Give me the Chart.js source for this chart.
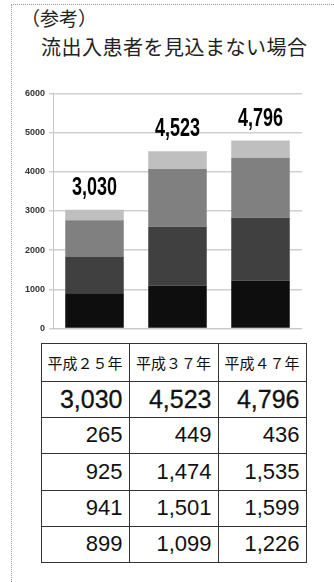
<!DOCTYPE html>
<html lang="ja">
<head>
<meta charset="utf-8">
<script src="https://cdn.jsdelivr.net/npm/chart.js@4"></script>
<style>
  body { margin: 0; width: 334px; height: 582px; background: #fff; position: relative; overflow: hidden; }
  .frameTop { position: absolute; left: 11px; top: 4px; width: 323px; border-top: 1px dotted #999; }
  .frameLeft { position: absolute; left: 11px; top: 4px; height: 578px; border-left: 1px dotted #999; }
  .t1 { position: absolute; left: 21px; top: 8px; font: 19px "Noto Sans CJK JP", sans-serif; color: #222; line-height: 1; }
  .t2 { position: absolute; left: 41px; top: 37px; font: 20px "Noto Sans CJK JP", sans-serif; color: #222; line-height: 1; letter-spacing: 0.5px; }
  #wrap { position: absolute; left: 20px; top: 84px; width: 282px; height: 254px; }
  #tabla { position: absolute; left: 41px; top: 343px; width: 266px; height: 220px; }
  .celda { position: absolute; box-sizing: border-box; border: 1px solid #333; margin: -0.5px 0 0 -0.5px;
           display: flex; align-items: center; justify-content: flex-end; padding-right: 6px;
           font: 22px "Liberation Sans", Arial, sans-serif; color: #111; white-space: nowrap; }
  .celda.head { font: 15px "Noto Sans CJK JP", sans-serif; justify-content: center; padding: 0; }
  .celda.tot { font-size: 25px; -webkit-text-stroke: 0.3px #111; }
</style>
</head>
<body>
<div class="frameTop"></div>
<div class="frameLeft"></div>
<div class="t1">（参考）</div>
<div class="t2">流出入患者を見込まない場合</div>
<div id="wrap"><canvas id="grafica"></canvas></div>
<div id="tabla"></div>
<script>
const anios = ["平成２５年", "平成３７年", "平成４７年"];
const totales = [3030, 4523, 4796];
// de abajo hacia arriba en la barra
const serieA = [899, 1099, 1226];
const serieB = [941, 1501, 1599];
const serieC = [925, 1474, 1535];
const serieD = [265, 449, 436];
const ticksY = [0, 1000, 2000, 3000, 4000, 5000, 6000];

const colores = ["#0e0e0e", "#404040", "#808080", "#bfbfbf"];
const series = [serieA, serieB, serieC, serieD];

const fmt = (v) => v.toLocaleString("en-US");

// tabla debajo del grafico (bordes de columnas y filas en px)
const colX = [0, 88, 177, 265];
const filaY = [0, 38, 74, 110, 147, 183, 219];
const filas = [anios, totales.map(fmt)].concat([serieD, serieC, serieB, serieA].map((s) => s.map(fmt)));
const tabla = document.getElementById("tabla");
filas.forEach((fila, r) => {
  fila.forEach((txt, c) => {
    const d = document.createElement("div");
    d.className = "celda" + (r === 0 ? " head" : r === 1 ? " tot" : "");
    d.style.left = colX[c] + "px";
    d.style.top = filaY[r] + "px";
    d.style.width = colX[c + 1] - colX[c] + 1 + "px";
    d.style.height = filaY[r + 1] - filaY[r] + 1 + "px";
    d.textContent = txt;
    tabla.appendChild(d);
  });
});

const totalesPlugin = {
  id: "totales",
  afterDatasetsDraw(chart) {
    const ctx = chart.ctx;
    const meta = chart.getDatasetMeta(series.length - 1);
    ctx.save();
    ctx.fillStyle = "#000";
    ctx.font = "bold 20px 'Liberation Sans Narrow', 'Liberation Sans', sans-serif";
    ctx.textAlign = "center";
    ctx.textBaseline = "bottom";
    meta.data.forEach((bar, i) => {
      ctx.save();
      ctx.translate(bar.x, bar.y - 9);
      ctx.scale(0.9, 1.3);
      ctx.fillText(fmt(totales[i]), 0, 0);
      ctx.restore();
    });
    ctx.restore();
  },
};

new Chart(document.getElementById("grafica").getContext("2d"), {
  type: "bar",
  data: {
    labels: anios,
    datasets: series.map((s, i) => ({
      label: "区分" + (i + 1),
      data: s,
      backgroundColor: colores[i],
      barPercentage: 0.705,
      categoryPercentage: 1,
    })),
  },
  options: {
    responsive: true,
    maintainAspectRatio: false,
    animation: false,
    layout: { padding: { top: 7, right: 0, bottom: 0, left: 0 } },
    plugins: { legend: { display: false }, tooltip: { enabled: false } },
    scales: {
      x: {
        stacked: true,
        ticks: { display: false },
        grid: { display: false },
        border: { color: "#c8c8c8", width: 1 },
      },
      y: {
        stacked: true,
        min: 0,
        max: 6000,
        afterBuildTicks: (axis) => { axis.ticks = ticksY.map((v) => ({ value: v })); },
        afterFit: (axis) => { axis.width = 33; },
        ticks: {
          color: "#333",
          padding: 4,
          callback: (v) => String(v),
          font: { family: "'Liberation Sans Narrow', 'Liberation Sans', sans-serif", size: 9, weight: "bold" },
        },
        grid: { color: "#d0d0d0", lineWidth: 1.5, drawTicks: true, tickLength: 4 },
        border: { color: "#c8c8c8", width: 1 },
      },
    },
  },
  plugins: [totalesPlugin],
});
</script>
</body>
</html>
